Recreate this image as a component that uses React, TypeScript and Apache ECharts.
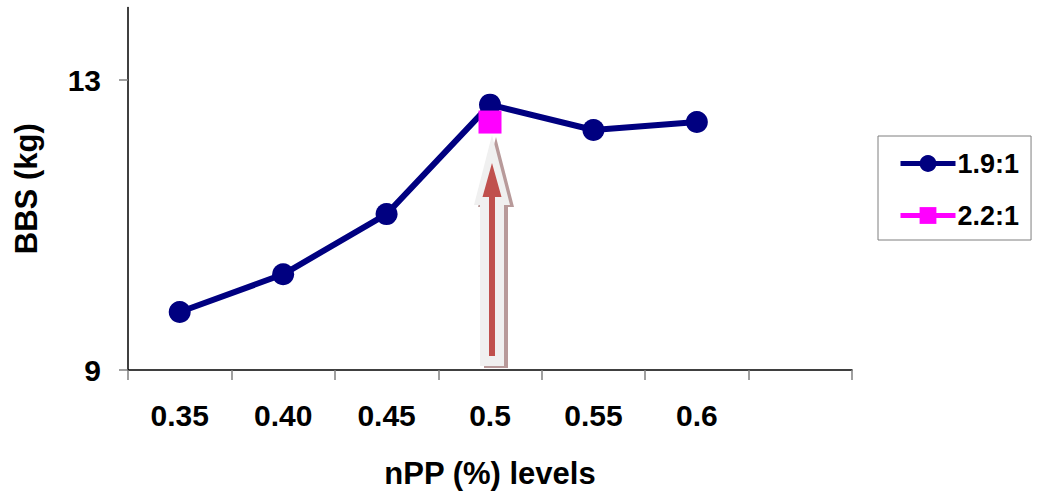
import React, { useEffect, useRef } from "react";
import * as echarts from "echarts";

// nPP levels along the x axis (last slot is an empty category)
const categories = ["0.35", "0.40", "0.45", "0.5", "0.55", "0.6", ""];
// BBS (kg) for the 1.9:1 ratio
const ratio19: (number | null)[] = [9.8, 10.32, 11.15, 12.66, 12.31, 12.42, null];
// BBS (kg) for the 2.2:1 ratio (single point)
const ratio22: (number | null)[] = [null, null, null, 12.42, null, null, null];
// y axis tick labels
const yTicks = [9, 13];

const FONT = "'Liberation Sans', Arial, sans-serif";

export default function App() {
  const ref = useRef<HTMLDivElement>(null);

  useEffect(() => {
    if (!ref.current) return;
    const chart = echarts.init(ref.current, null, { renderer: "svg" });
    chart.setOption({
      animation: false,
      backgroundColor: "#ffffff",
      textStyle: { fontFamily: FONT },
      grid: { left: 128, right: 185, top: 7.5, bottom: 125 },
      legend: {
        orient: "vertical",
        left: 878,
        top: 136,
        itemWidth: 55,
        itemHeight: 21,
        itemGap: 25,
        padding: [14, 12, 11, 20],
        borderColor: "#7f7f7f",
        borderWidth: 1,
        backgroundColor: "#ffffff",
        textStyle: { fontSize: 27, fontWeight: "bold", color: "#000", fontFamily: FONT, padding: [0, 0, 0, -3] },
        lineStyle: { width: 5 },
        data: ["1.9:1", "2.2:1"],
      },
      xAxis: {
        type: "category",
        data: categories,
        boundaryGap: true,
        name: "nPP (%) levels",
        nameLocation: "middle",
        nameGap: 88,
        nameTextStyle: { fontSize: 31, fontWeight: "bold", color: "#000", fontFamily: FONT },
        axisLine: { lineStyle: { color: "#000", width: 1.5 } },
        axisTick: { show: true, length: 10, lineStyle: { color: "#808080", width: 1.5 } },
        axisLabel: { fontSize: 30, fontWeight: "bold", color: "#000", margin: 30, fontFamily: FONT },
        splitLine: { show: false },
      },
      yAxis: {
        type: "value",
        min: 9,
        max: 14,
        name: "BBS (kg)",
        nameLocation: "middle",
        nameGap: 86,
        nameTextStyle: { fontSize: 31, fontWeight: "bold", color: "#000", fontFamily: FONT },
        axisLine: { show: true, lineStyle: { color: "#000", width: 1.5 } },
        axisTick: { show: true, length: 9, customValues: yTicks, lineStyle: { color: "#808080", width: 1.5 } },
        axisLabel: { fontSize: 30, fontWeight: "bold", color: "#000", margin: 27, customValues: yTicks, fontFamily: FONT },
        splitLine: { show: false },
      },
      series: [
        {
          name: "1.9:1",
          type: "line",
          data: ratio19,
          symbol: "circle",
          symbolSize: 22,
          lineStyle: { color: "#000080", width: 6 },
          itemStyle: { color: "#000080" },
          z: 3,
        },
        {
          name: "2.2:1",
          type: "line",
          data: ratio22,
          symbol: "rect",
          symbolSize: 23,
          lineStyle: { color: "#ff00ff", width: 6 },
          itemStyle: { color: "#ff00ff" },
          z: 4,
        },
      ],
    });

    // Upward arrow annotation pointing at the 0.5 level
    const [xc, yb] = chart.convertToPixel({ xAxisIndex: 0, yAxisIndex: 0 }, ["0.5", 9]) as number[];
    const cx = xc + 2;
    const arrow = (tipY: number, headY: number, bottomY: number, headHalf: number, shaftHalf: number, dx = 0, dy = 0) => [
      [cx + dx, tipY + dy],
      [cx + headHalf + dx, headY + dy],
      [cx + shaftHalf + dx, headY + dy],
      [cx + shaftHalf + dx, bottomY + dy],
      [cx - shaftHalf + dx, bottomY + dy],
      [cx - shaftHalf + dx, headY + dy],
      [cx - headHalf + dx, headY + dy],
    ];
    chart.setOption({
      graphic: [
        {
          type: "polygon",
          z: 1,
          shape: { points: arrow(yb - 235, yb - 165, yb - 4, 18, 12, 4, 2) },
          style: { fill: "#b89a9a" },
        },
        {
          type: "polygon",
          z: 2,
          shape: { points: arrow(yb - 235, yb - 165, yb - 4, 18, 12) },
          style: { fill: "#f0f0f0" },
        },
        {
          type: "polygon",
          z: 3,
          shape: { points: arrow(yb - 207, yb - 173, yb - 14, 9.5, 3) },
          style: { fill: "#c0504d" },
        },
      ],
    });

    return () => chart.dispose();
  }, []);

  return (
    <div
      ref={ref}
      style={{ position: "absolute", left: 0, top: 0, width: 1037, height: 495 }}
    />
  );
}
